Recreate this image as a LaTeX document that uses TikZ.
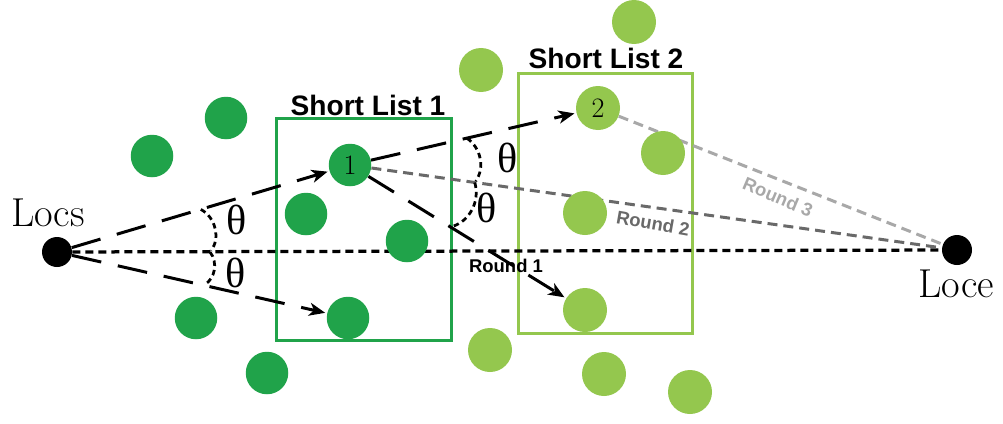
\documentclass[tikz,border=0pt]{standalone}
\usepackage{fontspec}
\setsansfont{Liberation Sans}
\newfontfamily\greekfont{Liberation Serif}
\usepackage{tikz}
\usetikzlibrary{arrows.meta,calc}
\usepackage{xcolor}
\definecolor{darkgreen}{RGB}{32,163,74}
\definecolor{lightgreen}{RGB}{148,199,78}
\definecolor{roundtwo}{RGB}{105,105,105}
\definecolor{roundthree}{RGB}{168,168,168}
\pgfdeclarelayer{background}
\pgfsetlayers{background,main}

\begin{document}
\begin{tikzpicture}[x=0.2mm,y=0.2mm,>={Stealth[length=3.2mm,width=2.6mm,inset=0.9mm]},shorten >=1pt,
	dark node/.style={circle,fill=darkgreen,inner sep=0pt,minimum size=8.5mm,font=\fontsize{16}{16}\selectfont},
	light node/.style={circle,fill=lightgreen,inner sep=0pt,minimum size=8.8mm,font=\fontsize{16}{16}\selectfont},
	end node/.style={circle,fill=black,inner sep=0pt,minimum size=6mm},
	list box/.style={line width=0.6mm},
	long dash/.style={line width=0.6mm,dash pattern=on 6mm off 3.4mm},
	short dash/.style={line width=0.65mm,dash pattern=on 1.6mm off 1mm},
	round line/.style={line width=0.6mm,dash pattern=on 2mm off 1.2mm},
	angle mark/.style={line width=0.55mm,dash pattern=on 1.1mm off 0.8mm},
	theta/.style={font=\greekfont\fontsize{24}{24}\selectfont},
	round label/.style={font=\sffamily\bfseries\fontsize{10.5}{10.5}\selectfont},
	list label/.style={font=\sffamily\bfseries\fontsize{16}{16}\selectfont},
	place label/.style={font=\fontsize{23}{23}\selectfont}]

	\useasboundingbox (0,0) rectangle (1003,423);

	\node[end node] (s) at (57,171) {};
	\node[end node] (e) at (957,173) {};
	\node[place label] (locs) at (48,210) {Locs};
	\node[place label] (loce) at (956,139) {Loce};

	% first short list and its neighbours
	\node[dark node] (1) at (350,258) {1};
	\node[dark node] (1a) at (226,305) {};
	\node[dark node] (1b) at (152,267) {};
	\node[dark node] (1c) at (306,209) {};
	\node[dark node] (1d) at (407,182) {};
	\node[dark node] (1e) at (196,105) {};
	\node[dark node] (1f) at (348,105) {};
	\node[dark node] (1g) at (267,50) {};

	% second short list and its neighbours
	\node[light node] (2) at (598,315) {2};
	\node[light node] (2a) at (634,401) {};
	\node[light node] (2b) at (481,353) {};
	\node[light node] (2c) at (663,270) {};
	\node[light node] (2d) at (585,210) {};
	\node[light node] (2e) at (585,113) {};
	\node[light node] (2f) at (490,73) {};
	\node[light node] (2g) at (604,49) {};
	\node[light node] (2h) at (690,31) {};

	\node[list label] (sl1) at (368,318) {Short List 1};
	\node[list label] (sl2) at (606,365) {Short List 2};

	\node[round label] (r1) at (506,157) {Round 1};
	\node[round label,roundtwo,rotate=-10] (r2) at (653,200) {Round 2};
	\node[round label,roundthree,rotate=-23] (r3) at (778,226) {Round 3};

	\node[theta] (ts1) at (237,203) {θ};
	\node[theta] (ts2) at (236,150) {θ};
	\node[theta] (t11) at (508,265) {θ};
	\node[theta] (t12) at (487,215) {θ};

	\begin{pgfonlayer}{background}
	\draw[list box,darkgreen] (276,83) rectangle (451,305);
	\draw[list box,lightgreen] (518,90) rectangle (692,350);

	\path[short dash] (s) edge (e);
	\path[round line,roundtwo] (1) edge (e);
	\path[round line,roundthree] (2) edge (e);

	\path[long dash,->]
	(s) edge (1)
	(s) edge (1f)
	(1) edge (2)
	(1) edge (2e)
;
	\draw[angle mark] ($(s)+(16.5:150)$) to[bend left=50] ($(s)+(0:153)$);
	\draw[angle mark] ($(s)+(0:153)$) to[bend left=50] ($(s)+(-12.8:150)$);
	\draw[angle mark] ($(1)+(12.9:120)$) to[bend left=45] ($(1)+(-8:126)$);
	\draw[angle mark] ($(1)+(-8:126)$) to[bend left=45] ($(1)+(-31.7:118)$);
	\end{pgfonlayer}
\end{tikzpicture}
\end{document}
